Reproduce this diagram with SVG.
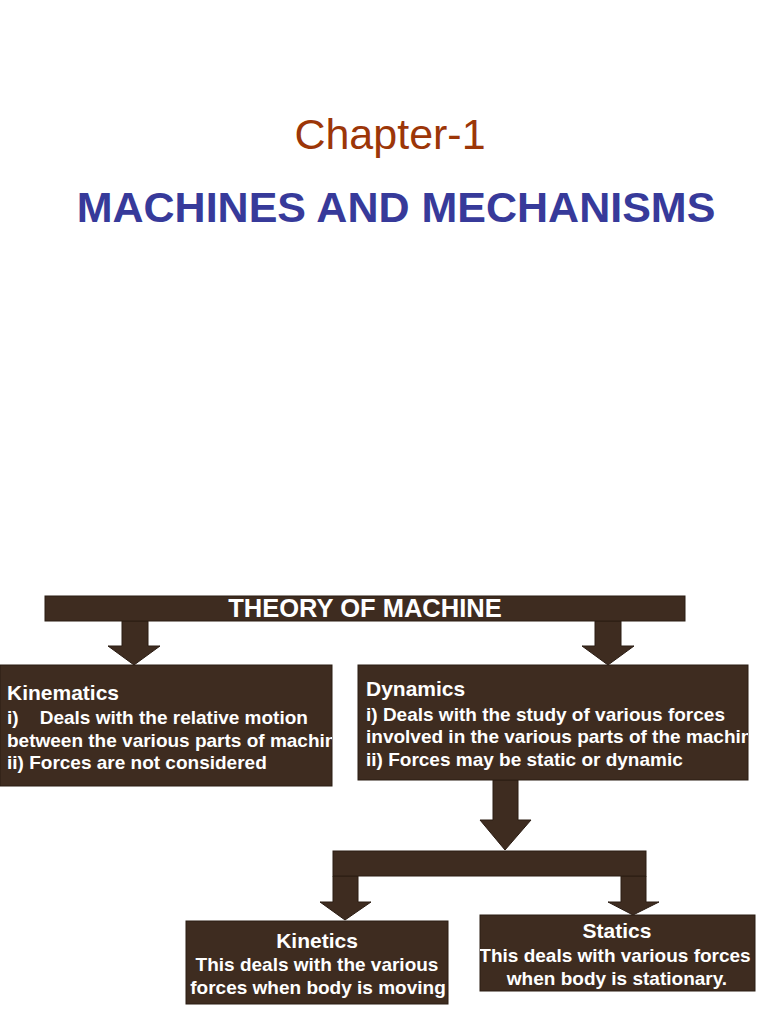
<svg xmlns="http://www.w3.org/2000/svg" width="768" height="1024" viewBox="0 0 768 1024">
<style>
.wood{fill:#3e2c20;stroke:#2a1c13;stroke-width:1}
.t{font-family:"Liberation Sans",Arial,sans-serif;font-weight:bold;fill:#ffffff}
</style>
<defs>
<clipPath id="ck"><rect x="0" y="665" width="332" height="121"/></clipPath>
<clipPath id="cd"><rect x="358" y="665" width="390" height="115"/></clipPath>
<clipPath id="cs"><rect x="480" y="915" width="275" height="76"/></clipPath>
</defs>
<rect width="768" height="1024" fill="#fff"/>
<text x="390" y="149" text-anchor="middle" font-family="Liberation Sans,Arial,sans-serif" font-size="43" fill="#9c3608">Chapter-1</text>
<text x="396" y="222" text-anchor="middle" font-family="Liberation Sans,Arial,sans-serif" font-weight="bold" font-size="43" fill="#373a9a">MACHINES AND MECHANISMS</text>
<g id="connectors">
<polygon class="wood" points="122,621 148,621 148,646 160,646 134,665 108,646 122,646"/>
<polygon class="wood" points="595,621 621,621 621,646 634,646 608,665 582,646 595,646"/>
<polygon class="wood" points="493,780 518,780 518,820 531,820 505,850 480,820 493,820"/>
<polygon class="wood" points="333,876 358,876 358,902 371,902 345,920 320,902 333,902"/>
<polygon class="wood" points="621,876 646,876 646,902 659,902 633,915 608,902 621,902"/>
</g>
<g id="theory"><rect class="wood" x="45" y="596" width="640" height="25"/>
<text class="t" x="365" y="617" text-anchor="middle" font-size="25.5">THEORY OF MACHINE</text></g>
<g id="bar2"><rect class="wood" x="333" y="851" width="313" height="25"/></g>
<g id="kinematics"><rect class="wood" x="0" y="665" width="332" height="121"/>
<g clip-path="url(#ck)" class="t" font-size="19">
<text x="7" y="700" font-size="21">Kinematics</text>
<text x="7" y="724" style="white-space:pre">i)    Deals with the relative motion</text>
<text x="7" y="747">between the various parts of machine</text>
<text x="7" y="769">ii) Forces are not considered</text></g></g>
<g id="dynamics"><rect class="wood" x="358" y="665" width="390" height="115"/>
<g clip-path="url(#cd)" class="t" font-size="19">
<text x="366" y="696" font-size="21">Dynamics</text>
<text x="366" y="721">i) Deals with the study of various forces</text>
<text x="366" y="743">involved in the various parts of the machine</text>
<text x="366" y="766">ii) Forces may be static or dynamic</text></g></g>
<g id="kinetics"><rect class="wood" x="186" y="921" width="262" height="83"/>
<g class="t" font-size="19" text-anchor="middle">
<text x="317" y="948" font-size="21">Kinetics</text>
<text x="317" y="971">This deals with the various</text>
<text x="318" y="994">forces when body is moving</text></g></g>
<g id="statics"><rect class="wood" x="480" y="915" width="275" height="76"/>
<g clip-path="url(#cs)" class="t" font-size="19" text-anchor="middle">
<text x="617" y="938" font-size="21">Statics</text>
<text x="615" y="962">This deals with various forces</text>
<text x="617" y="985">when body is stationary.</text></g></g>
</svg>
